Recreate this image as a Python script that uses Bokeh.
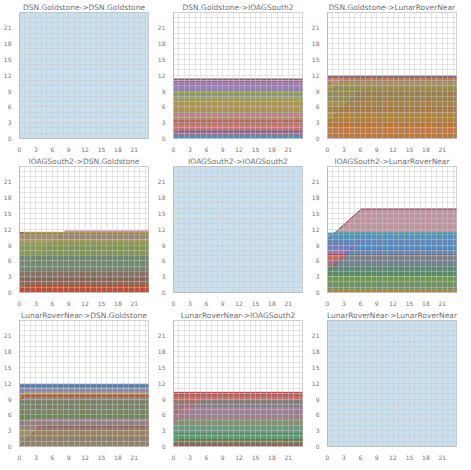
from bokeh.plotting import figure
from bokeh.layouts import gridplot
from bokeh.models import Range1d, SingleIntervalTicker
from bokeh.embed import file_html
from bokeh.resources import INLINE

nodes = ["DSN.Goldstone", "IOAGSouth2", "LunarRoverNear"]
palette = ["#1f77b4", "#ff7f0e", "#2ca02c", "#d62728", "#9467bd",
           "#8c564b", "#e377c2", "#7f7f7f", "#bcbd22", "#17becf"]
x_end = 23.6
y_end = 23.9

# each series: (value at t=0, time where it reaches its plateau, plateau value, colour index)
series_G_G = [(30.0, 0.0, 30.0, 0)]
series_G_I = [(11.3, 0, 11.3, 7), (11.25, 0, 11.25, 5), (11.2, 0, 11.2, 3), (11.1, 0, 11.1, 4),
              (11.0, 0, 11.0, 6), (10.8, 0, 10.8, 0),
              (10.3, 0, 10.3, 4), (9.0, 0, 9.0, 2), (8.8, 0, 8.8, 8), (7.7, 0, 7.7, 8),
              (7.0, 0, 7.0, 1), (5.0, 0, 5.0, 7), (4.6, 0, 4.6, 6), (3.3, 0, 3.3, 3),
              (2.4, 0, 2.4, 6), (1.3, 0, 1.3, 4), (0.4, 0, 0.4, 9), (0.5, 0.9, 1.4, 0)]
series_G_L = [(11.9, 0, 11.9, 7), (11.8, 0, 11.8, 4), (11.7, 0, 11.7, 5), (11.6, 0, 11.6, 0),
              (11.5, 0, 11.5, 3), (11.4, 0, 11.4, 6),
              (10.5, 0, 10.5, 2), (9.4, 0, 9.4, 2), (8.8, 0, 8.8, 5), (8.2, 3.3, 11.5, 0),
              (6.6, 0, 6.6, 1), (5.8, 0, 5.8, 5), (4.8, 0, 4.8, 8), (3.0, 5.8, 8.8, 0),
              (2.8, 6.2, 9.0, 3), (3.0, 0, 3.0, 3), (2.0, 0, 2.0, 6), (0.8, 0, 0.8, 5),
              (10.5, 0.9, 11.4, 1), (9.5, 1.0, 10.5, 8)]
series_I_G = [(3.3, 8.4, 11.7, 6), (3.2, 8.4, 11.6, 9),
              (11.4, 0, 11.4, 5), (11.35, 0, 11.35, 7), (11.3, 0, 11.3, 3), (11.2, 0, 11.2, 4),
              (11.1, 0, 11.1, 0), (11.0, 0, 11.0, 5),
              (10.4, 1.0, 11.4, 8), (10.0, 0, 10.0, 8), (9.0, 0, 9.0, 2), (7.0, 0, 7.0, 0),
              (6.5, 0, 6.5, 7), (4.2, 0, 4.2, 7), (4.0, 0, 4.0, 3), (2.5, 0, 2.5, 5),
              (1.2, 0, 1.2, 1), (1.0, 0, 1.0, 3), (0.2, 1.0, 1.3, 3)]
series_I_I = [(30.0, 0.0, 30.0, 0)]
series_I_L = [(10.0, 6.2, 15.8, 5), (10.1, 6.2, 15.9, 4), (10.05, 6.2, 15.85, 3),
              (9.95, 6.2, 15.75, 7),
              (11.3, 0, 11.3, 9), (11.2, 0, 11.2, 0), (11.1, 0, 11.1, 4), (11.0, 0, 11.0, 0),
              (10.3, 1.0, 11.3, 9), (10.0, 0, 10.0, 4), (9.3, 0, 9.3, 4), (8.0, 0, 8.0, 6),
              (7.2, 0, 7.2, 3), (6.8, 0, 6.8, 1), (4.0, 4.2, 8.2, 0), (3.0, 6.0, 9.0, 9),
              (5.0, 0, 5.0, 2), (4.0, 0, 4.0, 2), (3.0, 0, 3.0, 8), (1.5, 0, 1.5, 7),
              (0.5, 0, 0.5, 1)]
series_L_G = [(11.8, 0, 11.8, 7), (11.7, 0, 11.7, 0), (11.6, 0, 11.6, 4), (11.5, 0, 11.5, 5),
              (11.4, 0, 11.4, 0), (10.6, 0, 10.6, 4),
              (10.0, 0, 10.0, 1), (9.7, 0, 9.7, 3), (9.3, 1.0, 10.3, 8), (8.6, 0.8, 9.6, 3),
              (8.2, 1.0, 9.2, 9), (8.5, 0, 8.5, 2), (8.0, 0, 8.0, 7), (6.0, 0, 6.0, 2),
              (5.0, 0, 5.0, 6), (3.3, 2.0, 5.2, 6), (4.5, 0, 4.5, 7), (3.0, 0, 3.0, 8),
              (0.0, 3.8, 3.8, 5), (1.5, 0, 1.5, 7)]
series_L_I = [(10.3, 0, 10.3, 6), (10.25, 0, 10.25, 5), (10.2, 0, 10.2, 3), (10.0, 0, 10.0, 7),
              (9.9, 0, 9.9, 5), (9.6, 0, 9.6, 3),
              (3.3, 5.3, 8.6, 9), (8.6, 0, 8.6, 2), (8.5, 0, 8.5, 4), (5.3, 0, 5.3, 4),
              (5.3, 2.0, 7.3, 6), (4.1, 1.1, 5.2, 8), (5.0, 0, 5.0, 2), (4.0, 0, 4.0, 9),
              (2.5, 0, 2.5, 2), (0.4, 0, 0.4, 5), (0.3, 1.0, 1.3, 3)]
series_L_L = [(30.0, 0.0, 30.0, 0)]

panels = [
    [series_G_G, series_G_I, series_G_L],
    [series_I_G, series_I_I, series_I_L],
    [series_L_G, series_L_I, series_L_L],
]

figs = []
for i, src in enumerate(nodes):
    for j, dst in enumerate(nodes):
        p = figure(width=154, height=154, output_backend="svg", toolbar_location=None,
                   title=f"{src}->{dst}",
                   x_range=Range1d(0, x_end), y_range=Range1d(0, y_end),
                   min_border_left=2, min_border_right=6, min_border_top=0,
                   min_border_bottom=2)
        p.title.text_font = "DejaVu Sans"
        p.title.text_font_size = "7.5px"
        p.title.text_font_style = "normal"
        p.title.text_color = "#707070"
        p.title.align = "center"
        p.title.standoff = 1
        p.outline_line_color = "#d0d0d0"
        for ax in (p.xaxis[0], p.yaxis[0]):
            ax.ticker = SingleIntervalTicker(interval=3)
            ax.major_label_text_font = "DejaVu Sans"
            ax.major_label_text_font_size = "6px"
            ax.major_label_text_color = "#777777"
            ax.major_tick_line_color = None
            ax.minor_tick_line_color = None
            ax.axis_line_color = "#bbbbbb"
            ax.major_label_standoff = 2
        for g in (p.xgrid[0], p.ygrid[0]):
            g.ticker = SingleIntervalTicker(interval=1)
            g.grid_line_color = "#c8c8c8"
            g.grid_line_alpha = 0.45
            g.level = "overlay"
        for (y0, bp, cap, ci) in panels[i][j]:
            xs = [0, bp, x_end] if bp > 0 else [0, x_end]
            ys = [y0, cap, cap] if bp > 0 else [cap, cap]
            p.varea(x=xs, y1=[0] * len(xs), y2=ys, fill_color=palette[ci], fill_alpha=0.23)
            p.line(xs, ys, line_color=palette[ci], line_alpha=0.7, line_width=1)
        figs.append(p)

grid = gridplot(figs, ncols=3, toolbar_location=None)
open("out.html", "w").write(file_html(grid, INLINE))
